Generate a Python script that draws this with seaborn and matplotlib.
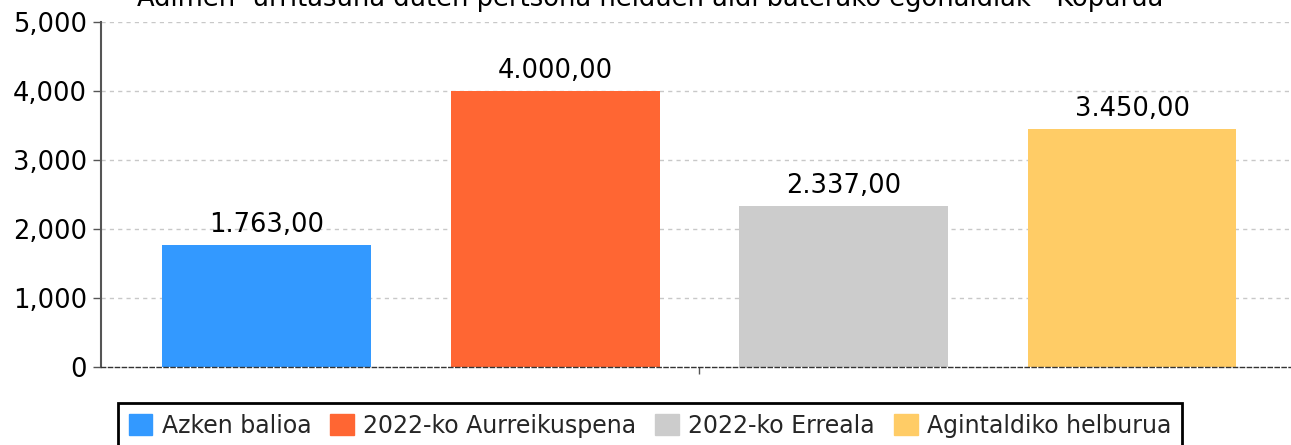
import matplotlib
matplotlib.use("Agg")
import matplotlib.pyplot as plt
import seaborn as sns
import pandas as pd
from matplotlib.ticker import FuncFormatter, FixedLocator

categories = ["Azken balioa", "2022-ko Aurreikuspena", "2022-ko Erreala", "Agintaldiko helburua"]
values = [1763.00, 4000.00, 2337.00, 3450.00]
colors = ["#3399FF", "#FF6633", "#CCCCCC", "#FFCC66"]
title = "Adimen- urritasuna duten pertsona helduen aldi baterako egonaldiak - Kopurua"
yticks = [0, 1000, 2000, 3000, 4000, 5000]

df = pd.DataFrame({"cat": categories, "val": values})

sns.set_theme(style="white")
plt.rcParams["font.family"] = ["DejaVu Sans"]

W, H = 1291, 445
fig = plt.figure(figsize=(W / 100, H / 100), dpi=100)
ax = fig.add_axes([101 / W, 1 - 367 / H, 1 - 101 / W, (367 - 22) / H])

sns.barplot(data=df, x="cat", y="val", hue="cat", order=categories, hue_order=categories,
            palette=colors, width=0.724, dodge=False, legend=False, ax=ax, saturation=1)
for p in ax.patches:
    p.set_edgecolor("none")

ax.set_xlim(-0.574, 3.551)
ax.set_ylim(0, 5000)
ax.yaxis.set_major_locator(FixedLocator(yticks))
ax.yaxis.set_major_formatter(FuncFormatter(lambda v, _: f"{int(v):,}"))
ax.set_xticks([1.5])
ax.set_xticklabels([""])
ax.tick_params(axis="x", length=5, width=1, color="#555555", direction="out", bottom=True)
ax.tick_params(axis="y", length=6, width=1, color="#555555", direction="out", left=True,
               labelsize=18.5, labelcolor="black", pad=4)
ax.set_xlabel("")
ax.set_ylabel("")

ax.set_axisbelow(True)
for t in yticks[1:]:
    ax.axhline(t, color="#C8C8C8", lw=1, ls=(0, (3, 3)), zorder=0)

for s in ["top", "right"]:
    ax.spines[s].set_visible(False)
ax.spines["left"].set_color("#555555")
ax.spines["left"].set_linewidth(1.5)
ax.spines["bottom"].set_color("#333333")
ax.spines["bottom"].set_linewidth(1)
ax.spines["bottom"].set_linestyle((0, (3, 2)))

def eu(v):
    s = f"{v:,.2f}"
    return s.replace(",", "X").replace(".", ",").replace("X", ".")

for i, v in enumerate(values):
    ax.text(i, v + 105, eu(v), ha="center", va="bottom", fontsize=18.5, color="black")

fig.text(650 / W, 1 - 5.5 / H, title, ha="center", va="baseline", fontsize=18.5, color="black")

handles = [plt.Rectangle((0, 0), 1, 1, color=c) for c in colors]
leg = fig.legend(handles, categories, loc="upper center", bbox_to_anchor=(650 / W, 1 - 403 / H),
                 ncol=4, fontsize=17, frameon=True, fancybox=False, framealpha=1,
                 handlelength=1.0, handleheight=1.0, handletextpad=0.4, columnspacing=0.8,
                 borderpad=0.45, borderaxespad=0)
leg.get_frame().set_edgecolor("black")
leg.get_frame().set_linewidth(2)

fig.savefig("out.png", dpi=100)
